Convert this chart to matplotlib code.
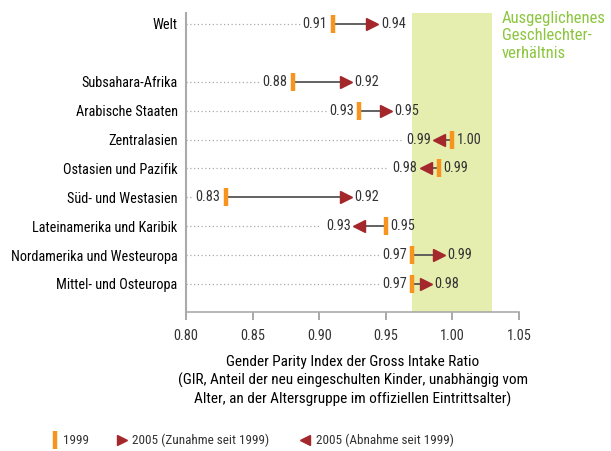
import matplotlib
matplotlib.use('Agg')
import matplotlib.pyplot as plt
from matplotlib.lines import Line2D

plt.rcParams.update({'font.family': ['Roboto Condensed', 'Archivo Narrow', 'DejaVu Sans'],
                     'font.size': 10, 'text.color': '#333333',
                     'xtick.color': '#999999', 'xtick.labelcolor': '#333333'})

# data
regions = ['Welt', 'Subsahara-Afrika', 'Arabische Staaten', 'Zentralasien',
           'Ostasien und Pazifik', 'Süd- und Westasien', 'Lateinamerika und Karibik',
           'Nordamerika und Westeuropa', 'Mittel- und Osteuropa']
rows = [0, 2, 3, 4, 5, 6, 7, 8, 9]
gpi_1999 = [0.91, 0.88, 0.93, 1.00, 0.99, 0.83, 0.95, 0.97, 0.97]
gpi_2005 = [0.94, 0.92, 0.95, 0.99, 0.98, 0.92, 0.93, 0.99, 0.98]
xticks = [0.80, 0.85, 0.90, 0.95, 1.00, 1.05]
parity_band = (0.97, 1.03)

ORANGE = '#F7941D'
RED = '#A3272B'
GREEN_BAND = '#E5EDAF'
GREEN_TXT = '#8CC63F'
FS = 10.3

fig = plt.figure(figsize=(6.11, 4.51), dpi=100)
ax = fig.add_axes([186/611, 1 - 312/451, 333/611, 299/451])
ax.set_xlim(0.80, 1.05)
ax.set_ylim(9.97, -0.38)

ax.axvspan(*parity_band, color=GREEN_BAND, zorder=0, lw=0)

px = 0.25 / 333  # data units per pixel
for r, a, b in zip(rows, gpi_1999, gpi_2005):
    lo = min(a, b)
    # dotted guide up to the left label
    left_off = 4 if a < b else 9
    ax.plot([0.80, lo - (left_off + 29) * px], [r, r], ls=(0, (1, 2)),
            color='#aaaaaa', lw=0.9, zorder=1)
    ax.plot([a, b], [r, r], color='#555555', lw=1.3, zorder=2)
    ax.plot(a, r, marker='|', ms=13, mew=3.2, color=ORANGE, zorder=3, ls='none')
    ax.plot(b, r, marker='>' if b > a else '<', ms=9, color=RED, mec=RED,
            zorder=4, ls='none')
    # value labels
    if a < b:
        ax.annotate(f'{a:.2f}', (a, r), xytext=(-4, 0), textcoords='offset points',
                    ha='right', va='center', fontsize=FS)
        ax.annotate(f'{b:.2f}', (b, r), xytext=(6, 0), textcoords='offset points',
                    ha='left', va='center', fontsize=FS)
    else:
        ax.annotate(f'{b:.2f}', (b, r), xytext=(-6, 0), textcoords='offset points',
                    ha='right', va='center', fontsize=FS)
        ax.annotate(f'{a:.2f}', (a, r), xytext=(3, 0), textcoords='offset points',
                    ha='left', va='center', fontsize=FS)

ax.set_yticks(rows)
ax.set_yticklabels(regions, fontsize=FS)
ax.tick_params(axis='y', length=0, pad=6)
ax.set_xticks(xticks)
ax.set_xticklabels([f'{t:.2f}' for t in xticks], fontsize=FS)
ax.tick_params(axis='x', length=6, width=1.2, pad=6)

for s in ['top', 'right']:
    ax.spines[s].set_visible(False)
ax.spines['left'].set_color('#aaaaaa')
ax.spines['left'].set_linewidth(1.5)
ax.spines['bottom'].set_color('#aaaaaa')
ax.spines['bottom'].set_linewidth(1.2)

ax.set_xlabel('Gender Parity Index der Gross Intake Ratio\n'
              '(GIR, Anteil der neu eingeschulten Kinder, unabhängig vom\n'
              'Alter, an der Altersgruppe im offiziellen Eintrittsalter)',
              fontsize=11, labelpad=9, linespacing=1.3)

fig.text(502/611, 1 - 11/451, 'Ausgeglichenes\nGeschlechter-\nverhältnis',
         color=GREEN_TXT, fontsize=12, va='top', ha='left', linespacing=1.2)

# legend at bottom
ly = 1 - 440/451
LFS = 9.5
fig.add_artist(Line2D([55/611], [ly], marker='|', ms=13, mew=3.2, color=ORANGE, ls='none'))
fig.text(63/611, ly, '1999', va='center', fontsize=LFS)
fig.add_artist(Line2D([122/611], [ly], marker='>', ms=7.5, color=RED, ls='none'))
fig.text(132/611, ly, '2005 (Zunahme seit 1999)', va='center', fontsize=LFS)
fig.add_artist(Line2D([305/611], [ly], marker='<', ms=7.5, color=RED, ls='none'))
fig.text(316/611, ly, '2005 (Abnahme seit 1999)', va='center', fontsize=LFS)

fig.savefig('out.png', dpi=100)
